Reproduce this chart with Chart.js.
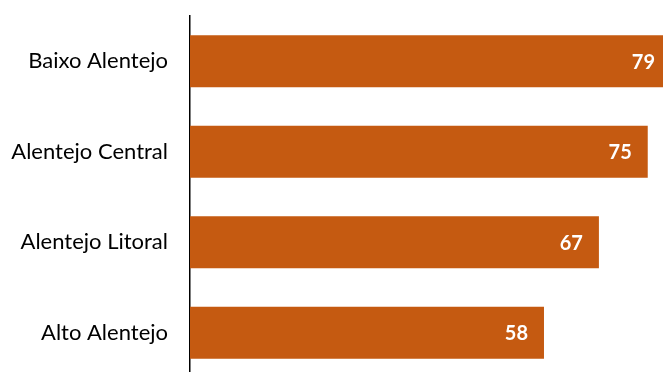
<!DOCTYPE html>
<html>
<head>
<meta charset="utf-8">
<script src="https://cdn.jsdelivr.net/npm/chart.js@4/dist/chart.umd.min.js"></script>
<style>
  html, body { margin: 0; padding: 0; background: #fff; overflow: hidden; }
  #wrap { position: relative; width: 663px; height: 380px; }
</style>
</head>
<body>
<div id="wrap"><canvas id="chart"></canvas></div>
<script>
// chart data
const regions = ['Baixo Alentejo', 'Alentejo Central', 'Alentejo Litoral', 'Alto Alentejo'];
const values = [79, 75, 67, 58];

const barColor = '#C55A11';

// white value labels drawn inside the end of each bar
const valueLabels = {
  id: 'valueLabels',
  afterDatasetsDraw(chart) {
    const ctx = chart.ctx;
    const area = chart.chartArea;
    const meta = chart.getDatasetMeta(0);
    ctx.save();
    ctx.fillStyle = '#fff';
    ctx.font = 'bold 20px Lato';
    ctx.textAlign = 'right';
    ctx.textBaseline = 'middle';
    meta.data.forEach((bar, i) => {
      const x = Math.min(bar.x - 16, area.right - 8);
      ctx.fillText(values[i], x, bar.y + 1);
    });
    ctx.restore();
  }
};

new Chart(document.getElementById('chart'), {
  type: 'bar',
  data: {
    labels: regions,
    datasets: [{
      data: values,
      backgroundColor: barColor,
      borderWidth: 0,
      categoryPercentage: 1,
      barPercentage: 0.575
    }]
  },
  options: {
    indexAxis: 'y',
    responsive: true,
    maintainAspectRatio: false,
    animation: false,
    layout: { padding: { top: 16, bottom: 2, left: 0, right: 0 } },
    plugins: {
      legend: { display: false },
      tooltip: { enabled: false }
    },
    scales: {
      x: {
        display: false,
        min: 0,
        max: 77.5
      },
      y: {
        afterFit(scale) {
          scale.width = 190;
          scale.paddingTop = 0;
          scale.paddingBottom = 0;
        },
        grid: { display: false, drawTicks: false },
        border: { display: true, color: '#000', width: 1.5 },
        ticks: {
          color: '#000',
          padding: 22,
          font: { family: 'Lato', size: 22 }
        }
      }
    }
  },
  plugins: [valueLabels]
});
</script>
</body>
</html>
